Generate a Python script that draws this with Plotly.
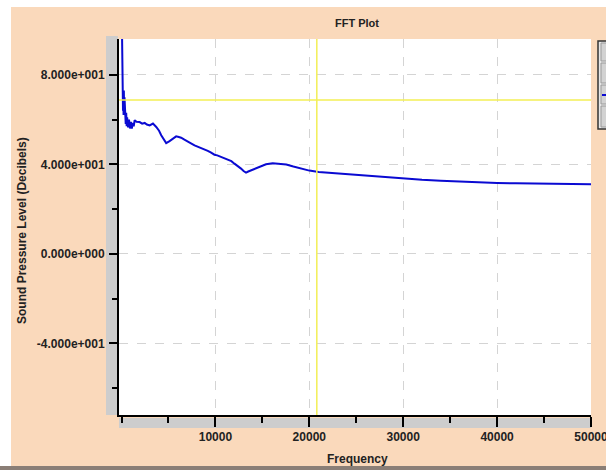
import plotly.graph_objects as go

# ---- data ----
freq = [20, 50, 80, 100, 130, 160, 190, 220, 250, 280, 320, 360, 400, 450, 500,
        550, 600, 700, 800, 900, 1000, 1100, 1200, 1300, 1400, 1600, 1930, 2200,
        2470, 2700, 3000, 3350, 3700, 4000, 4230, 4500, 4760, 5120, 5500, 5820,
        6100, 6350, 6700, 7070, 7400, 7780, 8100, 8480, 8800, 9190, 9500, 9900,
        10200, 10600, 11000, 11320, 11700, 12030, 12400, 12730, 13000, 13260,
        13500, 13790, 14100, 14500, 15000, 15390, 16100, 16800, 17550, 18300,
        19000, 20000, 21000, 22480, 24000, 26060, 28000, 29600, 32000, 34000,
        36000, 38000, 40000, 42000, 44000, 46000, 48000, 50000]
spl = [110, 95, 78, 70, 74, 64, 72, 62, 73, 63, 70, 61, 66, 58, 63,
       57, 61, 56.5, 60, 56, 59, 56, 58.5, 57, 59.7, 59, 58.9, 58.2,
       58.5, 57.8, 57.4, 58.2, 56.7, 55, 53, 51, 49.5, 50.4, 51.5, 52.5,
       52.2, 51.9, 51, 50, 49.4, 48.5, 48, 47.3, 46.7, 46, 45.3, 44.3,
       44, 43.3, 42.8, 42.1, 41.4, 40.3, 39.2, 38.1, 37, 36.3,
       36.8, 37.3, 37.8, 38.8, 39.4, 40, 40.5, 40.2, 39.9, 39,
       38.2, 37.2, 36.6, 36.1, 35.6, 35.1, 34.3, 33.6, 33.1, 32.7,
       32.3, 32, 31.7, 31.5, 31.4, 31.3, 31.2, 31.1]

cursor_freq = [20800]
cursor_level = [68.8]

y_tickvals = [80, 40, 0, -40]
y_ticktext = ["8.000e+001", "4.000e+001", "0.000e+000", "-4.000e+001"]
x_tickvals = [10000, 20000, 30000, 40000, 50000]
x_ticktext = ["10000", "20000", "30000", "40000", "50000"]

title_text = "FFT Plot"
x_title = "Frequency"
y_title = "Sound Pressure Level (Decibels)"

# ---- layout geometry ----
W, H = 606, 470
L, R, T, B = 119, 15, 39, 55
PW = W - L - R
PH = H - T - B
PEACH = "#fad9bb"
GRAYBAND = "#cdcdcd"
TXT = "#222222"


def px(xp):
    return (xp - L) / PW


def py(yp):
    return (H - B - yp) / PH


fig = go.Figure()
fig.add_trace(go.Scatter(x=freq, y=spl, mode="lines",
                         line=dict(color="#0a0ad2", width=2),
                         showlegend=False, hoverinfo="skip"))

font_family = "Liberation Sans, Arial, sans-serif"

shapes = []
# white strips at top and left
shapes.append(dict(type="rect", xref="paper", yref="paper", x0=px(0), x1=px(W),
                   y0=py(0), y1=py(7), fillcolor="white", line_width=0, layer="below"))
shapes.append(dict(type="rect", xref="paper", yref="paper", x0=px(0), x1=px(11),
                   y0=py(0), y1=py(H), fillcolor="white", line_width=0, layer="below"))
# bottom border line
shapes.append(dict(type="rect", xref="paper", yref="paper", x0=px(0), x1=px(W),
                   y0=py(466), y1=py(H), fillcolor="#8a7e76", line_width=0, layer="below"))
# gray axis bands
shapes.append(dict(type="rect", xref="paper", yref="paper", x0=px(106), x1=px(118),
                   y0=py(36), y1=py(415), fillcolor=GRAYBAND, line_width=0, layer="below"))
shapes.append(dict(type="rect", xref="paper", yref="paper", x0=px(119), x1=px(591),
                   y0=py(418), y1=py(428), fillcolor=GRAYBAND, line_width=0, layer="below"))
# crosshair cursor lines (yellow)
shapes.append(dict(type="line", xref="x", yref="paper", x0=cursor_freq[0], x1=cursor_freq[0],
                   y0=0, y1=1, line=dict(color="#f3ef55", width=1.5), layer="above"))
shapes.append(dict(type="line", xref="paper", yref="y", x0=0, x1=1,
                   y0=cursor_level[0], y1=cursor_level[0],
                   line=dict(color="#f3ef55", width=1.5), layer="above"))
# legend box (clipped at right edge)
shapes.append(dict(type="rect", xref="paper", yref="paper", x0=px(598), x1=px(612),
                   y0=py(41), y1=py(129), fillcolor="#e6e6e6",
                   line=dict(color="#333333", width=1.5), layer="above"))
for (a, b) in [(43, 61), (63, 83), (85, 104), (106, 127)]:
    shapes.append(dict(type="rect", xref="paper", yref="paper", x0=px(601), x1=px(612),
                       y0=py(a), y1=py(b), fillcolor="#d2d2d2",
                       line=dict(color="#9a9a9a", width=1), layer="above"))
shapes.append(dict(type="line", xref="paper", yref="paper", x0=px(602), x1=px(612),
                   y0=py(95), y1=py(95), line=dict(color="#0a0ad2", width=2), layer="above"))

annotations = [
    dict(text=y_title, xref="paper", yref="paper", x=px(22), y=py(231),
         xanchor="center", yanchor="middle", textangle=-90, showarrow=False,
         font=dict(size=12, weight="bold", color=TXT)),
    dict(text=x_title, xref="paper", yref="paper", x=px(357), y=py(459),
         xanchor="center", yanchor="middle", showarrow=False,
         font=dict(size=12, weight="bold", color=TXT)),
]

fig.update_layout(
    width=W, height=H,
    margin=dict(l=L, r=R, t=T, b=B, pad=0, autoexpand=False),
    paper_bgcolor=PEACH,
    plot_bgcolor="white",
    font=dict(family=font_family, size=12, color=TXT),
    title=dict(text=title_text, x=357 / W, xref="container", xanchor="center",
               y=1 - 23 / H, yref="container", yanchor="middle",
               font=dict(size=11, weight="bold", color=TXT)),
    shapes=shapes,
    annotations=annotations,
    xaxis=dict(
        range=[-266, 50000], showline=True, linecolor="black", linewidth=2,
        automargin=False, ticklabeloverflow="allow",
        tickvals=x_tickvals, ticktext=x_ticktext,
        ticks="outside", ticklen=10, tickwidth=2, tickcolor="black",
        minor=dict(ticks="outside", ticklen=6, tickwidth=2, tickcolor="black",
                   dtick=5000, tick0=0, showgrid=False),
        showgrid=True, gridcolor="#d4d4d4", griddash="dash", gridwidth=1,
        zeroline=False,
        tickfont=dict(size=12, weight="bold", color=TXT),
    ),
    yaxis=dict(
        range=[-72, 96], showline=True, linecolor="black", linewidth=2,
        automargin=False, ticklabeloverflow="allow",
        tickvals=y_tickvals, ticktext=y_ticktext,
        ticks="outside", ticklen=8, tickwidth=2, tickcolor="black",
        minor=dict(ticks="outside", ticklen=5, tickwidth=2, tickcolor="black",
                   dtick=20, tick0=0, showgrid=False),
        showgrid=True, gridcolor="#d4d4d4", griddash="dash", gridwidth=1,
        zeroline=False,
        tickfont=dict(size=12, weight="bold", color=TXT),
        ticklabelstandoff=2,
    ),
)

fig.write_html("out.html")
